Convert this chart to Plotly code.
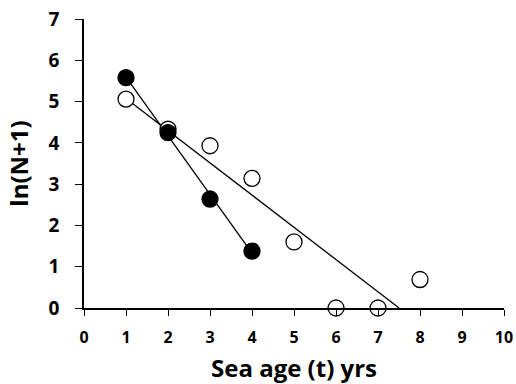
import numpy as np
import plotly.graph_objects as go

# Data
filled_age = [1, 2, 3, 4]
filled_ln = [5.58, 4.25, 2.64, 1.38]
open_age = [1, 2, 3, 4, 5, 6, 7, 8]
open_ln = [5.06, 4.33, 3.93, 3.14, 1.60, 0.0, 0.0, 0.69]
x_ticks = list(range(0, 11))
y_ticks = list(range(0, 8))

# Linear regressions
fb, fa = np.polyfit(filled_age, filled_ln, 1)
ob, oa = np.polyfit(open_age, open_ln, 1)
fx = np.array([min(filled_age), max(filled_age)])
ox = np.array([min(open_age), -oa / ob])

fig = go.Figure()
fig.add_trace(go.Scatter(x=fx, y=fa + fb * fx, mode="lines",
                         line=dict(color="black", width=1.3), showlegend=False))
fig.add_trace(go.Scatter(x=ox, y=oa + ob * ox, mode="lines",
                         line=dict(color="black", width=1.3), showlegend=False))
fig.add_trace(go.Scatter(x=open_age, y=open_ln, mode="markers", cliponaxis=False,
                         marker=dict(size=16, color="white",
                                     line=dict(color="black", width=1.3)),
                         showlegend=False))
fig.add_trace(go.Scatter(x=filled_age, y=filled_ln, mode="markers", cliponaxis=False,
                         marker=dict(size=16, color="black",
                                     line=dict(color="black", width=1.3)),
                         showlegend=False))

font = "Open Sans, sans-serif"
fig.update_layout(
    width=516, height=384,
    margin=dict(l=84, r=12, t=19, b=76, autoexpand=False),
    plot_bgcolor="white", paper_bgcolor="white",
    font=dict(family=font, color="black"),
    xaxis=dict(range=[0, 10], tickvals=x_ticks,
               ticktext=[f"<b>{v}</b>" for v in x_ticks],
               showgrid=False, zeroline=False, automargin=False,
               showline=True, linecolor="black", linewidth=1.5,
               ticks="outside", ticklen=6, tickwidth=1.3, tickcolor="black",
               ticklabelstandoff=8,
               tickfont=dict(size=16, family=font),
               title=dict(text="<b>Sea age (t) yrs</b>", font=dict(size=24, family=font),
                          standoff=20)),
    yaxis=dict(range=[0, 7], tickvals=y_ticks,
               ticktext=[f"<b>{v}</b>" for v in y_ticks],
               showgrid=False, zeroline=False, automargin=False,
               showline=True, linecolor="black", linewidth=1.5,
               ticks="outside", ticklen=7, tickwidth=1.3, tickcolor="black",
               ticklabelstandoff=12,
               tickfont=dict(size=19, family=font),
               title=dict(text="<b>ln(N+1)</b>", font=dict(size=24, family=font),
                          standoff=13)),
)
fig.write_html("out.html")
